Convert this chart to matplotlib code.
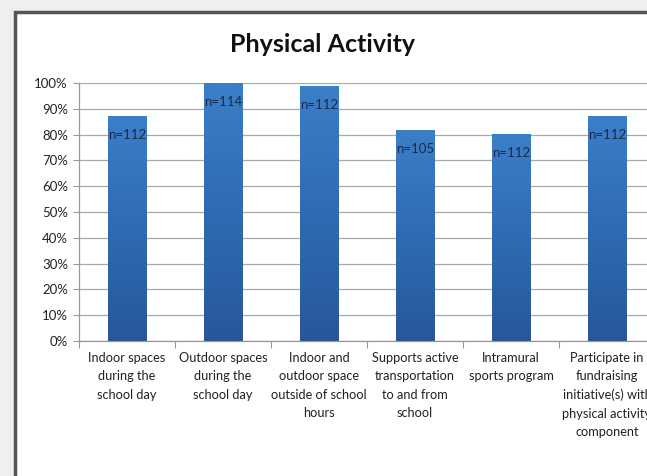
import numpy as np
import matplotlib.pyplot as plt
from matplotlib.patches import Rectangle
from matplotlib.colors import LinearSegmentedColormap

# data
categories = [
    "Indoor spaces\nduring the\nschool day",
    "Outdoor spaces\nduring the\nschool day",
    "Indoor and\noutdoor space\noutside of school\nhours",
    "Supports active\ntransportation\nto and from\nschool",
    "Intramural\nsports program",
    "Participate in\nfundraising\ninitiative(s) with\nphysical activity\ncomponent",
]
percent = [87.2, 100.0, 98.8, 81.7, 80.2, 87.1]
n_labels = ["n=112", "n=114", "n=112", "n=105", "n=112", "n=112"]
y_ticks = [0, 10, 20, 30, 40, 50, 60, 70, 80, 90, 100]

plt.rcParams['font.family'] = ['Lato', 'DejaVu Sans']

W, H = 647, 476
fig = plt.figure(figsize=(W / 100, H / 100), dpi=100)
fig.patch.set_facecolor("#eef0ef")

# white chart panel with dark frame on left/top (right and bottom cut off)
panel = Rectangle((15 / W, -0.1), 1.0, (H - 12) / H + 0.1, transform=fig.transFigure,
                  facecolor="white", edgecolor="#555555", linewidth=2.5, zorder=-5)
fig.patches.append(panel)

# axes run past the right edge, like the cropped original
ax = fig.add_axes([79 / W, 135 / H, 576 / W, 258 / H], zorder=2)
ax.set_facecolor("none")

x = np.arange(len(categories))
bars = ax.bar(x, percent, width=0.4, color="#2f6db3", edgecolor="#4a86c8",
              linewidth=0.6, zorder=3)

# vertical gradient inside each bar
cmap = LinearSegmentedColormap.from_list("barblue", ["#28579a", "#2e6bb3", "#3b7fc6"])
grad = np.linspace(0, 1, 256).reshape(-1, 1)
for b in bars:
    x0, w, h = b.get_x(), b.get_width(), b.get_height()
    im = ax.imshow(grad, cmap=cmap, origin="lower", aspect="auto",
                   extent=(x0, x0 + w, 0, h), zorder=3.5)
    im.set_clip_path(b)

# n= labels just inside the bar tops
for xi, v, lab in zip(x, percent, n_labels):
    ax.annotate(lab, (xi, v), xytext=(0, -13.5), textcoords="offset points",
                ha="center", va="center", fontsize=9.5, color="#1b2b45", zorder=5)

ax.set_xlim(-0.5, len(categories) - 0.5)
ax.set_ylim(0, 100)
ax.set_yticks(y_ticks)
ax.set_yticklabels([f"{t}%" for t in y_ticks])
ax.yaxis.grid(True, color="#a8a8a8", linewidth=0.9, zorder=0)
ax.set_axisbelow(True)

ax.set_xticks(np.arange(-0.5, len(categories), 1.0))
ax.set_xticklabels([])
ax.set_xticks(x, minor=True)
ax.set_xticklabels(categories, minor=True, fontsize=9.2, color="#222222",
                   linespacing=1.62, va="top")
ax.tick_params(axis="x", which="minor", length=0, pad=8)
ax.tick_params(axis="x", which="major", length=5, color="#999999", direction="out")
ax.tick_params(axis="y", length=4, color="#999999", labelsize=9.5, labelcolor="#222222", pad=4)

for side in ["top", "right"]:
    ax.spines[side].set_visible(False)
for side in ["left", "bottom"]:
    ax.spines[side].set_color("#999999")
    ax.spines[side].set_linewidth(0.9)

fig.text(323 / W, 1 - 45 / H, "Physical Activity", ha="center", va="center",
         fontsize=18, fontweight="bold", color="#111111")

fig.savefig("out.png", dpi=100, facecolor=fig.get_facecolor())
